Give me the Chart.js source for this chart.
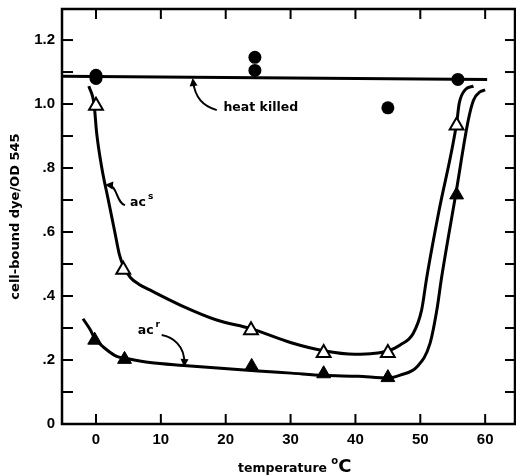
<!DOCTYPE html>
<html lang="en">
<head>
    <meta charset="UTF-8">
    <title>cell-bound dye vs temperature</title>
    <style>
        body {
            margin: 0;
            background-color: #FFFFFF;
        }
        #chartContainer {
            width: 516px;
            height: 476px;
        }
    </style>
    <script src="https://cdn.jsdelivr.net/npm/chart.js"></script>
</head>
<body>
    <div id="chartContainer">
        <canvas id="myChart" width="516" height="476"></canvas>
    </div>

    <script>
        var heatKilledX = [0, 0, 24.5, 24.5, 45, 55.8];
        var heatKilledY = [1.09, 1.08, 1.146, 1.105, 0.988, 1.077];
        var acsX = [0, 4.2, 23.9, 35.1, 45.0, 55.6];
        var acsY = [0.995, 0.482, 0.293, 0.222, 0.222, 0.933];
        var acrX = [-0.2, 4.4, 24.0, 35.1, 45.0, 55.6];
        var acrY = [0.262, 0.202, 0.18, 0.157, 0.145, 0.716];

        // hand-drawn fitted curves
        var heatLineX = [-5.3, 60.3];
        var heatLineY = [1.087, 1.077];
        var acsCurveX = [-1.1, -0.3, 0.1, 0.9, 1.9, 2.9, 3.6, 4.3, 5.3, 6.6, 8.3, 13.5, 18.6, 23.9, 30.1, 35.1, 39.9, 43.0, 45.1, 46.9, 48.9, 50.2, 51.0, 52.8, 55.6, 56.0, 56.9, 58.2];
        var acsCurveY = [1.056, 1.0, 0.91, 0.80, 0.70, 0.60, 0.53, 0.49, 0.458, 0.437, 0.419, 0.367, 0.325, 0.298, 0.254, 0.229, 0.218, 0.221, 0.229, 0.247, 0.283, 0.356, 0.459, 0.658, 0.94, 1.002, 1.044, 1.056];
        var acrCurveX = [-2.0, -0.9, -0.2, 1.65, 3.2, 4.4, 8.3, 13.5, 25.0, 30.1, 35.1, 40.4, 45.1, 46.9, 49.5, 51.5, 52.55, 53.3, 55.5, 57.4, 58.2, 59.2, 60.0];
        var acrCurveY = [0.329, 0.295, 0.268, 0.232, 0.211, 0.206, 0.192, 0.183, 0.166, 0.159, 0.152, 0.149, 0.144, 0.153, 0.179, 0.252, 0.356, 0.46, 0.722, 0.95, 1.012, 1.038, 1.044];

        // axes
        var xTicks = [0, 10, 20, 30, 40, 50, 60];
        var xTickLabels = ['0', '10', '20', '30', '40', '50', '60'];
        var yTicks = [0, 0.2, 0.4, 0.6, 0.8, 1.0, 1.2];
        var yTickLabels = ['0', '.2', '.4', '.6', '.8', '1.0', '1.2'];
        var yMinorTicks = [0.1, 0.2, 0.3, 0.4, 0.5, 0.6, 0.7, 0.8, 0.9, 1.0, 1.1, 1.2];

        // labels and arrows in data units
        var labelTexts = ['heat killed', 'ac', 'ac'];
        var labelSups = ['', 's', 'r'];
        var labelX = [19.65, 5.25, 6.44];
        var labelY = [0.987, 0.691, 0.291];
        var arrowPaths = [
            [[18.62, 0.981], [16.5, 0.994], [15.27, 1.019], [14.96, 1.072]],
            [[4.47, 0.684], [3.09, 0.691], [3.39, 0.744], [1.85, 0.747]],
            [[10.13, 0.278], [11.72, 0.272], [13.73, 0.247], [13.62, 0.1875]]
        ];

        function pairs(xs, ys) {
            return xs.map(function(x, i) { return {x: x, y: ys[i]}; });
        }

        // keep the plot box where the figure has it
        function noPadding(scale) {
            scale.paddingTop = 0;
            scale.paddingBottom = 0;
            scale.paddingLeft = 0;
            scale.paddingRight = 0;
        }

        var labelFont = 'bold 12.5px "DejaVu Sans"';

        // frame, inward ticks, text labels, arrows, x title
        var extras = {
            id: 'extras',
            afterDatasetsDraw: function(chart) {
                var ctx = chart.ctx;
                var a = chart.chartArea;
                var xs = chart.scales.x;
                var ys = chart.scales.y;

                function seg(x1, y1, x2, y2) {
                    ctx.beginPath();
                    ctx.moveTo(x1, y1);
                    ctx.lineTo(x2, y2);
                    ctx.stroke();
                }

                ctx.save();
                ctx.strokeStyle = '#000';
                ctx.fillStyle = '#000';
                ctx.lineWidth = 2.5;
                ctx.strokeRect(a.left, a.top, a.right - a.left, a.bottom - a.top);

                ctx.lineWidth = 2;
                xTicks.forEach(function(v) {
                    var px = xs.getPixelForValue(v);
                    seg(px, a.bottom, px, a.bottom - 10);
                    seg(px, a.top, px, a.top + 10);
                });
                yMinorTicks.forEach(function(v) {
                    var py = ys.getPixelForValue(v);
                    seg(a.left, py, a.left + 11, py);
                    seg(a.right, py, a.right - 10, py);
                });

                // arrows
                ctx.lineWidth = 2;
                arrowPaths.forEach(function(p) {
                    var q = p.map(function(pt) {
                        return [xs.getPixelForValue(pt[0]), ys.getPixelForValue(pt[1])];
                    });
                    ctx.beginPath();
                    ctx.moveTo(q[0][0], q[0][1]);
                    ctx.bezierCurveTo(q[1][0], q[1][1], q[2][0], q[2][1], q[3][0], q[3][1]);
                    ctx.stroke();
                    var ang = Math.atan2(q[3][1] - q[2][1], q[3][0] - q[2][0]);
                    var tx = q[3][0] + Math.cos(ang) * 3;
                    var ty = q[3][1] + Math.sin(ang) * 3;
                    ctx.beginPath();
                    ctx.moveTo(tx, ty);
                    ctx.lineTo(tx - Math.cos(ang) * 8 - Math.sin(ang) * 4, ty - Math.sin(ang) * 8 + Math.cos(ang) * 4);
                    ctx.lineTo(tx - Math.cos(ang) * 8 + Math.sin(ang) * 4, ty - Math.sin(ang) * 8 - Math.cos(ang) * 4);
                    ctx.closePath();
                    ctx.fill();
                });

                // labels
                ctx.textBaseline = 'middle';
                ctx.textAlign = 'left';
                labelTexts.forEach(function(t, i) {
                    var px = xs.getPixelForValue(labelX[i]);
                    var py = ys.getPixelForValue(labelY[i]);
                    ctx.font = labelFont;
                    ctx.fillText(t, px, py);
                    if (labelSups[i]) {
                        var w = ctx.measureText(t).width;
                        ctx.font = 'bold 9px "DejaVu Sans"';
                        ctx.fillText(labelSups[i], px + w + 2, py - 6);
                    }
                });

                // x axis title: temperature °C
                ctx.textBaseline = 'alphabetic';
                var x0 = a.left + 176;
                var base = 471.5;
                ctx.font = labelFont;
                ctx.fillText('temperature', x0, base);
                var x1 = x0 + ctx.measureText('temperature ').width;
                ctx.font = 'bold 10px "DejaVu Sans"';
                ctx.fillText('o', x1, base - 8);
                var x2 = x1 + ctx.measureText('o').width;
                ctx.font = 'bold 18px "DejaVu Sans"';
                ctx.fillText('C', x2, base);
                ctx.restore();
            }
        };

        var ctx = document.getElementById('myChart').getContext('2d');
        var myChart = new Chart(ctx, {
            type: 'scatter',
            data: {
                datasets: [
                    {
                        label: 'heat killed',
                        data: pairs(heatKilledX, heatKilledY),
                        pointStyle: 'circle',
                        pointRadius: 6.5,
                        backgroundColor: '#000',
                        borderColor: '#000',
                        borderWidth: 0
                    },
                    {
                        label: 'acs',
                        data: pairs(acsX, acsY),
                        pointStyle: 'triangle',
                        pointRadius: 8,
                        backgroundColor: '#FFF',
                        borderColor: '#000',
                        borderWidth: 2
                    },
                    {
                        label: 'acr',
                        data: pairs(acrX, acrY),
                        pointStyle: 'triangle',
                        pointRadius: 8,
                        backgroundColor: '#000',
                        borderColor: '#000',
                        borderWidth: 1
                    },
                    {
                        label: 'heat killed line',
                        data: pairs(heatLineX, heatLineY),
                        showLine: true,
                        pointRadius: 0,
                        borderColor: '#000',
                        borderWidth: 3
                    },
                    {
                        label: 'acs curve',
                        data: pairs(acsCurveX, acsCurveY),
                        showLine: true,
                        pointRadius: 0,
                        borderColor: '#000',
                        borderWidth: 3,
                        cubicInterpolationMode: 'monotone'
                    },
                    {
                        label: 'acr curve',
                        data: pairs(acrCurveX, acrCurveY),
                        showLine: true,
                        pointRadius: 0,
                        borderColor: '#000',
                        borderWidth: 3,
                        cubicInterpolationMode: 'monotone'
                    }
                ]
            },
            options: {
                responsive: false,
                animation: false,
                devicePixelRatio: 1,
                layout: {
                    autoPadding: false,
                    padding: {top: 9, right: 1, left: 0, bottom: 0}
                },
                plugins: {
                    legend: {display: false},
                    tooltip: {enabled: false}
                },
                scales: {
                    x: {
                        type: 'linear',
                        min: -5.24,
                        max: 64.6,
                        grid: {display: false, drawTicks: false},
                        border: {display: false},
                        afterBuildTicks: function(scale) {
                            scale.ticks = xTicks.map(function(v) { return {value: v}; });
                        },
                        afterFit: function(scale) {
                            scale.height = 52;
                            noPadding(scale);
                        },
                        ticks: {
                            color: '#000',
                            padding: 7,
                            maxRotation: 0,
                            autoSkip: false,
                            font: {family: '"Liberation Sans"', size: 15, weight: 'bold'},
                            callback: function(v, i) { return xTickLabels[i]; }
                        }
                    },
                    y: {
                        min: 0,
                        max: 1.297,
                        grid: {display: false, drawTicks: false},
                        border: {display: false},
                        afterBuildTicks: function(scale) {
                            scale.ticks = yTicks.map(function(v) { return {value: v}; });
                        },
                        afterFit: function(scale) {
                            scale.width = 62;
                            noPadding(scale);
                        },
                        ticks: {
                            color: '#000',
                            padding: 7,
                            autoSkip: false,
                            font: {family: '"Liberation Sans"', size: 15, weight: 'bold'},
                            callback: function(v, i) { return yTickLabels[i]; }
                        },
                        title: {
                            display: true,
                            text: 'cell-bound dye/OD 545',
                            color: '#000',
                            padding: {top: 8, bottom: 0},
                            font: {family: '"DejaVu Sans"', size: 13, weight: 'bold'}
                        }
                    }
                }
            },
            plugins: [extras]
        });
    </script>
</body>
</html>
